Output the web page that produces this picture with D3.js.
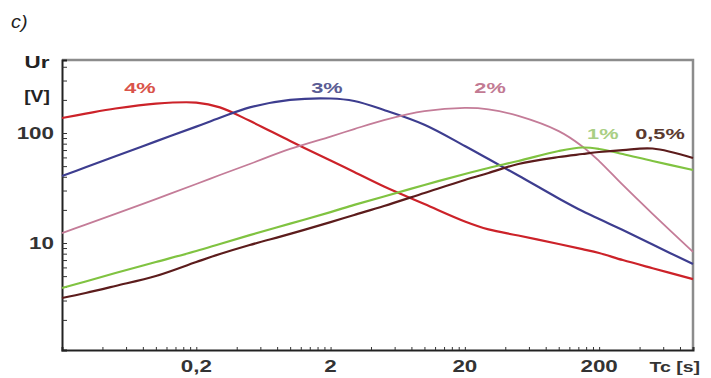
<!DOCTYPE html>
<html>
<head>
<meta charset="utf-8">
<script src="https://cdn.jsdelivr.net/npm/d3@7"></script>
<style>
  body { margin: 0; background: #fff; }
  text { font-family: Arial, "Liberation Sans", sans-serif; }
</style>
</head>
<body>
<div id="container"></div>
<script>
var width = 711,
    height = 378;

// time constant Tc [s]
var tc = [0.02, 0.03, 0.05, 0.1, 0.2, 0.3, 0.5, 1, 2, 3, 5, 10, 20, 30, 50, 100, 150, 200, 300, 500, 1000];
// residual voltage Ur [V] for each curve
var u4  = [137, 150, 167, 185, 189, 171, 129, 84.6, 56.2, 44.2, 32.6, 22.6, 15.7, 13.3, 11.7, 9.8, 8.8, 8.11, 7.0, 5.9, 4.7];
var u3  = [40.6, 48.8, 61.4, 83.9, 114.3, 137.5, 171, 200, 206, 195.4, 162, 118.9, 76.2, 58, 41.1, 25.4, 19.5, 16.5, 13.1, 9.67, 6.44];
var u2  = [12.3, 14.7, 18.4, 25.1, 34.4, 41.5, 52.3, 71.6, 92.9, 108.6, 131, 158, 169, 164, 143, 104, 75.5, 55.6, 33.7, 18.4, 8.3];
var u1  = [3.9, 4.47, 5.34, 6.72, 8.46, 9.8, 11.8, 15.0, 19.1, 22.2, 26.5, 33.7, 42.4, 48.1, 55.6, 68.6, 73.8, 71.6, 64.4, 55.6, 46.1];
var u05 = [3.16, 3.51, 4.07, 5.01, 6.72, 7.94, 9.59, 12.1, 15.5, 18.0, 21.7, 28.5, 37.4, 43.3, 52.3, 60.5, 64.4, 67.2, 70.0, 72.3, 59.3];

var seriesNames = ["4%", "3%", "2%", "1%", "0,5%"];
var seriesValues = [u4, u3, u2, u1, u05];
var lineColors = ["#cc2229", "#3d3d8f", "#c47c98", "#80c341", "#5c1c1c"];
var labelColors = ["#d9534a", "#5a5c94", "#c27a93", "#a9cf85", "#5b3a30"];
// where each curve label sits, in data units
var labelTc = [0.076, 1.88, 30.8, 213, 568];
var labelU = [231, 231, 231, 88.2, 88.2];

var xTickValues = [0.2, 2, 20, 200];
var xTickLabels = ["0,2", "2", "20", "200"];
var yTickValues = [10, 100];
var yTickLabels = ["10", "100"];

var svg = d3.select("#container")
    .append("svg")
    .attr("width", width)
    .attr("height", height);

var x = d3.scaleLog().domain([0.02, 1000]).range([62, 693]);
var y = d3.scaleLog().domain([1.065, 461]).range([350, 60]);

// minor ticks: x decades start at 0.02, y decades at 1
var xMinor = [];
for (var n = 0; n < 5; n++) {
    for (var k = 1; k <= 9; k++) {
        var v = 0.02 * k * Math.pow(10, n);
        if (v > 0.02 && v <= 1000) xMinor.push(v);
    }
}
var yMinor = [];
for (var n = 0; n < 3; n++) {
    for (var k = 1; k <= 9; k++) {
        var v = k * Math.pow(10, n);
        if (v > 1.065 && v < 461) yMinor.push(v);
    }
}

// frame: grey top/right
svg.append("path")
    .attr("d", "M62,60H693V350")
    .attr("fill", "none")
    .attr("stroke", "#8c8c8c")
    .attr("stroke-width", 2.5);

svg.append("g")
    .attr("transform", "translate(0,350)")
    .call(d3.axisBottom(x).tickValues(xMinor).tickSize(-3).tickFormat(""))
    .call(function (g) {
        g.select(".domain").attr("stroke", "#222").attr("stroke-width", 2);
        g.selectAll(".tick line").attr("stroke", "#333");
    });

svg.append("g")
    .attr("transform", "translate(62,0)")
    .call(d3.axisLeft(y).tickValues(yMinor).tickSize(-5).tickFormat(""))
    .call(function (g) {
        g.select(".domain").attr("stroke", "#222").attr("stroke-width", 2);
        g.selectAll(".tick line").attr("stroke", "#333");
    });

// curves
var line = d3.line()
    .x(function (d) { return x(d[0]); })
    .y(function (d) { return y(d[1]); })
    .curve(d3.curveCatmullRom.alpha(0.5));

svg.append("g")
    .selectAll("path")
    .data(seriesValues)
    .enter()
    .append("path")
    .attr("d", function (vals) {
        return line(tc.map(function (t, i) { return [t, vals[i]]; }));
    })
    .attr("fill", "none")
    .attr("stroke", function (d, i) { return lineColors[i]; })
    .attr("stroke-width", function (d, i) { return i == 2 ? 1.8 : 2.2; })
    .attr("stroke-linejoin", "round");

// horizontally stretched bold text, like the scanned figure
function stretchedText(txt, px, py, anchor, size, sx, color, weight, style) {
    svg.append("text")
        .attr("transform", "translate(" + px + "," + py + ") scale(" + sx + ",1)")
        .attr("text-anchor", anchor)
        .attr("font-size", size)
        .attr("font-weight", weight || "bold")
        .attr("font-style", style || "normal")
        .attr("fill", color)
        .text(txt);
}

xTickValues.forEach(function (v, i) {
    stretchedText(xTickLabels[i], x(v), 372, "middle", 16, 1.4, "#333");
});
yTickValues.forEach(function (v, i) {
    stretchedText(yTickLabels[i], 54, y(v) + 6, "end", 16, 1.4, "#333");
});

stretchedText("Tc [s]", 700, 372, "end", 15, 1.3, "#333");
stretchedText("Ur", 37, 68, "middle", 16, 1.4, "#222");
stretchedText("[V]", 37, 102, "middle", 16, 1.2, "#222");
stretchedText("c)", 11, 28, "start", 18, 1.1, "#222", "normal", "italic");

seriesNames.forEach(function (name, i) {
    stretchedText(name, x(labelTc[i]), y(labelU[i]), "middle", 15, 1.45, labelColors[i]);
});
</script>
</body>
</html>
